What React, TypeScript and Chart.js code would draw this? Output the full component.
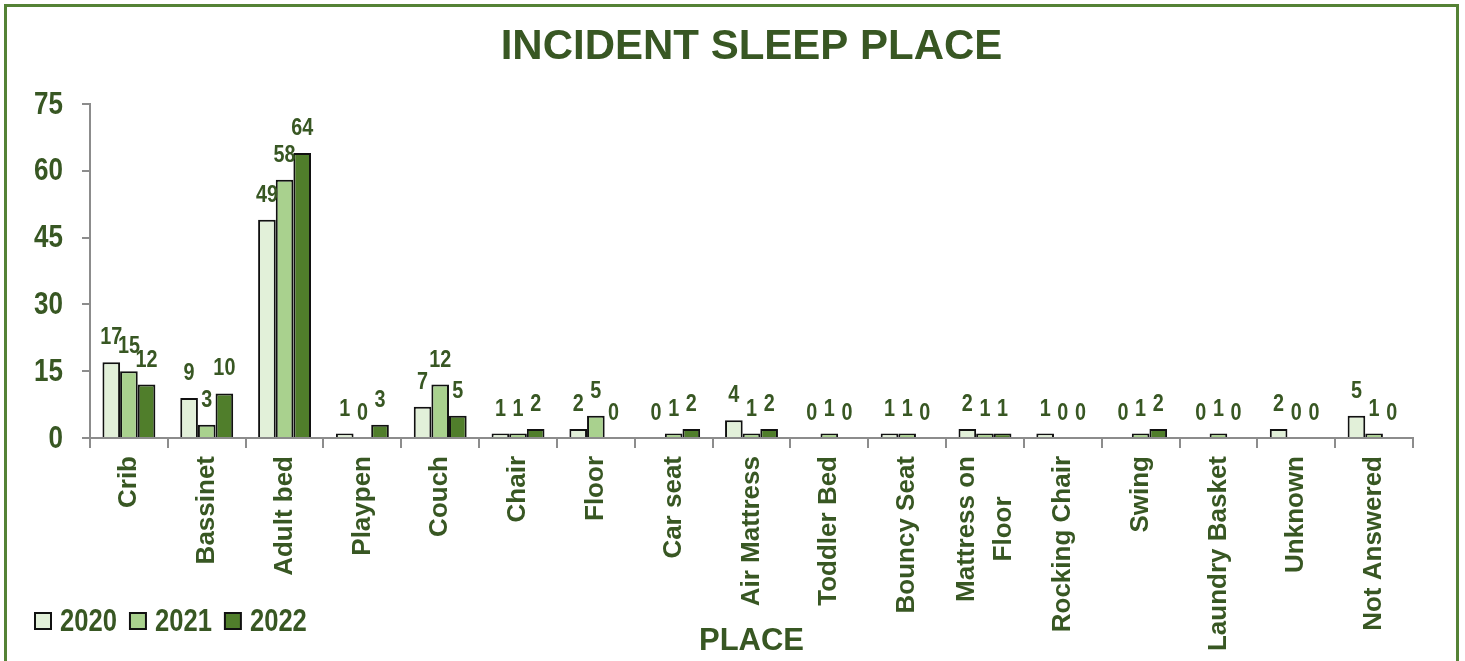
import React, { useEffect, useRef } from "react";
import { Chart, registerables } from "chart.js";

Chart.register(...registerables);

const categories: string[][] = [
  ["Crib"], ["Bassinet"], ["Adult bed"], ["Playpen"], ["Couch"], ["Chair"], ["Floor"], ["Car seat"],
  ["Air Mattress"], ["Toddler Bed"], ["Bouncy Seat"], ["Mattress on", "Floor"], ["Rocking Chair"],
  ["Swing"], ["Laundry Basket"], ["Unknown"], ["Not Answered"],
];
const seriesNames = ["2020", "2021", "2022"];
const values2020 = [17, 9, 49, 1, 7, 1, 2, 0, 4, 0, 1, 2, 1, 0, 0, 2, 5];
const values2021 = [15, 3, 58, 0, 12, 1, 5, 1, 1, 1, 1, 1, 0, 1, 1, 0, 1];
const values2022 = [12, 10, 64, 3, 5, 2, 0, 2, 2, 0, 0, 1, 0, 2, 0, 0, 0];
const yTicks = [0, 15, 30, 45, 60, 75];
const titleText = "INCIDENT SLEEP PLACE";
const xTitleText = "PLACE";

const barColors = ["#E2F0D9", "#A9D18E", "#507E2B"];
const TEXT = "#385723";
const ARIAL = '"Liberation Sans", Arial, sans-serif';

function narrowText(ctx: CanvasRenderingContext2D, text: string, x: number, y: number, sx: number) {
  ctx.save();
  ctx.translate(x, y);
  ctx.scale(sx, 1);
  ctx.fillText(text, 0, 0);
  ctx.restore();
}

const extrasPlugin = {
  id: "extras",
  afterDatasetsDraw(chart: any) {
    const ctx = chart.ctx;
    ctx.save();
    ctx.fillStyle = TEXT;
    ctx.font = `bold 23px ${ARIAL}`;
    ctx.textAlign = "center";
    ctx.textBaseline = "alphabetic";
    chart.data.datasets.forEach((ds: any, di: number) => {
      const meta = chart.getDatasetMeta(di);
      meta.data.forEach((bar: any, i: number) => {
        narrowText(ctx, String(ds.data[i]), bar.x, bar.y - 18, 0.86);
      });
    });
    ctx.restore();
  },
  afterDraw(chart: any) {
    const ctx = chart.ctx;
    const ca = chart.chartArea;
    const xs = chart.scales.x;
    const ys = chart.scales.y;
    ctx.save();
    // title
    ctx.fillStyle = TEXT;
    ctx.font = `bold 42px ${ARIAL}`;
    ctx.textAlign = "center";
    ctx.textBaseline = "middle";
    ctx.fillText(titleText, (ca.left + ca.right) / 2, 47);

    // y tick labels
    ctx.font = `bold 31px ${ARIAL}`;
    ctx.textAlign = "right";
    ctx.textBaseline = "middle";
    ys.ticks.forEach((t: any) => {
      narrowText(ctx, String(t.value), ca.left - 27, ys.getPixelForValue(t.value) + 1, 0.84);
    });

    // x tick labels (rotated)
    ctx.font = `bold 26px ${ARIAL}`;
    ctx.textBaseline = "middle";
    ctx.textAlign = "center";
    const lineGap = 37;
    const anchorY = ca.bottom + 18;
    (chart.data.labels as string[][]).forEach((lines, i) => {
      const px = xs.getPixelForTick(i);
      const maxW = Math.max(...lines.map((l) => ctx.measureText(l).width));
      ctx.save();
      ctx.translate(px, anchorY);
      ctx.rotate(-Math.PI / 2);
      lines.forEach((l, j) => {
        const off = (j - (lines.length - 1) / 2) * lineGap;
        ctx.fillText(l, -maxW / 2, off);
      });
      ctx.restore();
    });

    // legend
    ctx.font = `bold 32px ${ARIAL}`;
    ctx.textAlign = "left";
    ctx.textBaseline = "middle";
    let x = 35;
    const y = 621;
    chart.data.datasets.forEach((ds: any) => {
      ctx.fillStyle = ds.backgroundColor;
      ctx.fillRect(x, y - 8, 16, 16);
      ctx.strokeStyle = "#111";
      ctx.lineWidth = 2;
      ctx.strokeRect(x, y - 8, 16, 16);
      ctx.fillStyle = TEXT;
      narrowText(ctx, ds.label, x + 25, y + 1, 0.8);
      const w = ctx.measureText(ds.label).width * 0.8;
      x += 25 + w + 13;
    });
    ctx.restore();
  },
};

export default function App() {
  const ref = useRef<HTMLCanvasElement>(null);
  useEffect(() => {
    if (!ref.current) return;
    const chart = new Chart(ref.current, {
      type: "bar",
      data: {
        labels: categories,
        datasets: [values2020, values2021, values2022].map((d, i) => ({
          label: seriesNames[i],
          data: d,
          backgroundColor: barColors[i],
          borderColor: "#111",
          borderWidth: 2,
          borderSkipped: "start",
          categoryPercentage: 0.68,
          barPercentage: 1.0,
        })),
      },
      options: {
        responsive: false,
        animation: false,
        layout: { padding: { left: 0, top: 104, right: 52, bottom: 0 } },
        plugins: {
          legend: { display: false },
          title: { display: false },
          tooltip: { enabled: false },
        },
        scales: {
          x: {
            grid: {
              offset: true,
              drawOnChartArea: false,
              drawTicks: true,
              tickLength: 10,
              color: "#8c8c8c",
              lineWidth: 2,
            },
            border: { color: "#8c8c8c", width: 2 },
            ticks: { display: false, autoSkip: false },
            title: {
              display: true,
              text: xTitleText,
              color: TEXT,
              font: { family: ARIAL, size: 31, weight: "bold" },
              padding: { top: 0, bottom: 1 },
            },
            afterFit(scale: any) {
              scale.height = 223;
            },
          },
          y: {
            min: 0,
            max: 75,
            afterBuildTicks(scale: any) {
              scale.ticks = yTicks.map((v) => ({ value: v }));
            },
            grid: {
              drawOnChartArea: false,
              drawTicks: true,
              tickLength: 8,
              color: "#8c8c8c",
              lineWidth: 2,
            },
            border: { color: "#8c8c8c", width: 2 },
            ticks: { display: false },
            afterFit(scale: any) {
              scale.width = 90;
            },
          },
        },
      },
      plugins: [extrasPlugin],
    } as any);
    return () => chart.destroy();
  }, []);

  return (
    <div style={{ position: "fixed", left: 0, top: 0, width: 1465, height: 661, background: "#fff", overflow: "hidden" }}>
      <div
        style={{
          position: "absolute",
          left: 4,
          top: 4,
          width: 1455,
          height: 720,
          boxSizing: "border-box",
          border: "3px solid #548235",
        }}
      />
      <canvas ref={ref} width={1465} height={661} style={{ position: "absolute", left: 0, top: 0 }} />
    </div>
  );
}
